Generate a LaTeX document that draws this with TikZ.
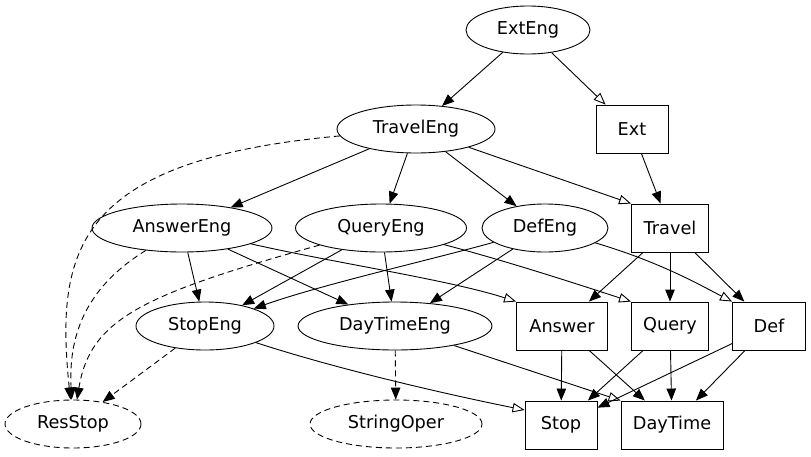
\documentclass[tikz,border=0pt]{standalone}
\usepackage{fontspec}
\setmainfont{DejaVu Sans}
\usetikzlibrary{arrows.meta,shapes.geometric}

\begin{document}
\begin{tikzpicture}[x=1pt, y=-1pt, line width=0.9pt,
	every node/.style={font=\fontsize{17.7}{20}\selectfont, inner sep=0pt},
	>={Triangle[length=12pt,width=9.5pt]},
	eng/.style={draw, ellipse, minimum height=48pt},
	res/.style={eng, dash pattern=on 6pt off 4pt},
	box/.style={draw, rectangle, minimum height=48pt},
	imp/.style={-{Triangle[open,length=12pt,width=9.5pt]}},
	dep/.style={->, dash pattern=on 6pt off 4pt}]
	\useasboundingbox (0,0) rectangle (811,456);
	\node[eng, minimum width=124pt] (exteng) at (528,30) {ExtEng};
	\node[eng, minimum width=158pt] (traveleng) at (416,129) {TravelEng};
	\node[box, minimum width=72pt] (ext) at (632,129) {Ext};
	\node[eng, minimum width=180pt] (answereng) at (182,228) {AnswerEng};
	\node[eng, minimum width=171pt] (queryeng) at (381,228) {QueryEng};
	\node[eng, minimum width=126pt] (defeng) at (545,228) {DefEng};
	\node[box, minimum width=77pt] (travel) at (670,228) {Travel};
	\node[eng, minimum width=138pt] (stopeng) at (205,326) {StopEng};
	\node[eng, minimum width=194pt] (daytimeeng) at (395,326) {DayTimeEng};
	\node[box, minimum width=91pt] (answer) at (562,326) {Answer};
	\node[box, minimum width=77pt] (query) at (670,326) {Query};
	\node[box, minimum width=73pt] (def) at (769,326) {Def};
	\node[res, minimum width=136pt] (resstop) at (73,424) {ResStop};
	\node[res, minimum width=172pt] (stringoper) at (396,424) {StringOper};
	\node[box, minimum width=72pt] (stop) at (561,425) {Stop};
	\node[box, minimum width=102pt] (daytime) at (672,425) {DayTime};

	\draw[->] (exteng) -- (traveleng);
	\draw[imp] (exteng) -- ([xshift=10pt]ext.north west);
	\draw[->] (ext) -- (travel);
	\draw[->] (traveleng) -- (answereng);
	\draw[->] (traveleng) -- (queryeng);
	\draw[->] (traveleng) -- (defeng);
	\draw[imp] (traveleng) -- (travel.north west);
	\draw[dep] (traveleng) .. controls (75,160) and (55,250) .. (resstop);

	\draw[->] (answereng) -- (stopeng);
	\draw[->] (answereng) -- (daytimeeng);
	\draw[imp] (answereng) .. controls (330,262) and (450,280) .. (answer.north west);
	\draw[dep] (answereng) .. controls (90,285) and (68,330) .. (resstop);
	\draw[->] (queryeng) -- (stopeng);
	\draw[->] (queryeng) -- (daytimeeng);
	\draw[imp] (queryeng) .. controls (510,262) and (580,285) .. (query.north west);
	\draw[dep] (queryeng) .. controls (140,295) and (90,320) .. (resstop);
	\draw[->] (defeng) .. controls (430,260) and (320,285) .. (stopeng);
	\draw[->] (defeng) -- (daytimeeng);
	\draw[imp] (defeng) .. controls (660,262) and (700,285) .. (def.north west);
	\draw[->] (travel) -- (answer);
	\draw[->] (travel) -- (query);
	\draw[->] (travel) -- (def);

	\draw[imp] (stopeng) .. controls (340,370) and (450,395) .. ([yshift=15pt]stop.west);
	\draw[dep] (stopeng) -- (resstop);
	\draw[imp] (daytimeeng) -- (daytime.north west);
	\draw[dep] (daytimeeng) -- (stringoper);
	\draw[->] (answer) -- (stop);
	\draw[->] (answer) -- (daytime);
	\draw[->] (query) -- (stop);
	\draw[->] (query) -- (daytime);
	\draw[->] (def) -- (stop);
	\draw[->] (def) -- (daytime);
\end{tikzpicture}
\end{document}
